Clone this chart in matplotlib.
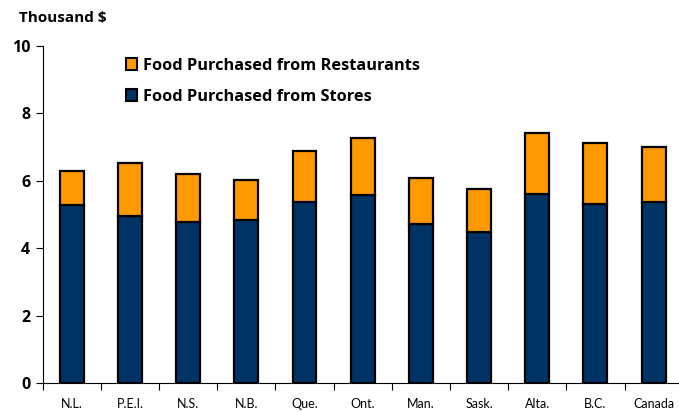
import matplotlib
matplotlib.use("Agg")
import matplotlib.pyplot as plt
import numpy as np
from matplotlib.patches import Patch

categories = ["N.L.", "P.E.I.", "N.S.", "N.B.", "Que.", "Ont.", "Man.", "Sask.", "Alta.", "B.C.", "Canada"]
stores = [5.27, 4.96, 4.79, 4.84, 5.38, 5.58, 4.71, 4.49, 5.60, 5.31, 5.37]
restaurants = [1.03, 1.58, 1.41, 1.18, 1.50, 1.70, 1.38, 1.26, 1.82, 1.81, 1.64]
yticks = [0, 2, 4, 6, 8, 10]

navy = "#003366"
orange = "#FF9900"
plt.rcParams['font.family'] = ['Lato', 'DejaVu Sans']
boldfam = ['Open Sans', 'DejaVu Sans']

fig = plt.figure(figsize=(6.79, 4.12), dpi=100)
ax = fig.add_axes([42.7/679, 29/412, 640/679, 337/412])

x = np.arange(len(categories))
w = 0.41
ax.bar(x, stores, width=w, color=navy, edgecolor="black", linewidth=1.6, zorder=3)
ax.bar(x, restaurants, width=w, bottom=stores, color=orange, edgecolor="black", linewidth=1.6, zorder=3)

ax.set_xlim(-0.5, len(categories) - 0.5)
ax.set_ylim(0, 10)
ax.set_yticks(yticks)
ax.set_yticklabels([str(t) for t in yticks], fontsize=11.5, fontweight="bold", family=boldfam)
ax.set_xticks(np.arange(len(categories) + 1) - 0.5)
ax.set_xticklabels([])
ax.set_xticks(x, minor=True)
ax.set_xticklabels(categories, minor=True, fontsize=9)
ax.tick_params(axis="x", which="minor", length=0, pad=11)
ax.tick_params(axis="x", which="major", length=5, width=0.8, direction="out")
ax.tick_params(axis="y", length=5, width=0.8, direction="out", pad=4)
for s in ["top", "right"]:
    ax.spines[s].set_visible(False)
for s in ["left", "bottom"]:
    ax.spines[s].set_linewidth(0.8)

fig.text(19/679, 1 - 18/412, "Thousand $", fontsize=11, fontweight="bold", family=boldfam,
         va="center", ha="left")

handles = [Patch(facecolor=orange, edgecolor="black", linewidth=1.5, label="Food Purchased from Restaurants"),
           Patch(facecolor=navy, edgecolor="black", linewidth=1.5, label="Food Purchased from Stores")]
leg = fig.legend(handles=handles, loc="upper left", bbox_to_anchor=(126/679, 1 - 58/412), frameon=False,
                 handlelength=0.7, handleheight=0.75, handletextpad=0.35, labelspacing=0.9,
                 prop={"size": 11.8, "weight": "bold", "family": boldfam}, borderaxespad=0, borderpad=0)

fig.savefig("out.png", dpi=100)
